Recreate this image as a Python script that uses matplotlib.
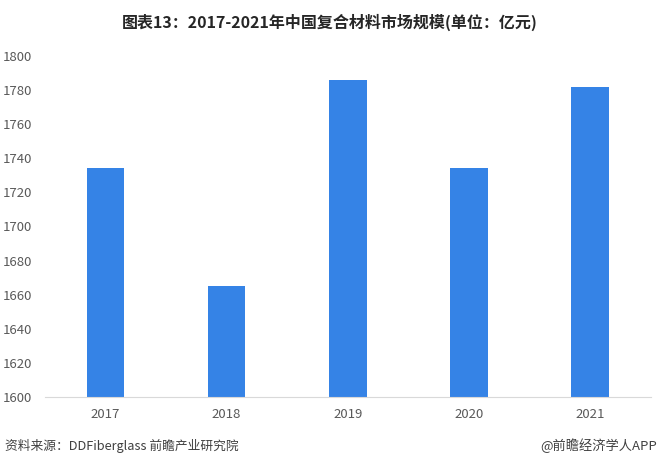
import matplotlib
matplotlib.use("Agg")
import matplotlib.pyplot as plt

plt.rcParams['font.family'] = ['Noto Sans CJK SC', 'DejaVu Sans']

years = ['2017', '2018', '2019', '2020', '2021']
values = [1734, 1665, 1786, 1734, 1782]
yticks = list(range(1600, 1801, 20))

fig = plt.figure(figsize=(6.6, 4.66), dpi=100)
ax = fig.add_axes([0.068, 0.148, 0.918, 0.732])

ax.bar(range(len(years)), values, width=0.31, color='#3583E6', zorder=2)
ax.set_xlim(-0.5, len(years) - 0.5)
ax.set_ylim(1600, 1800)
ax.set_yticks(yticks)
ax.set_xticks(range(len(years)))
ax.set_xticklabels(years)

for s in ['top', 'right', 'left']:
    ax.spines[s].set_visible(False)
ax.spines['bottom'].set_color('#d9d9d9')
ax.tick_params(axis='both', length=0, labelsize=9.5, colors='#595959')
ax.tick_params(axis='y', pad=9)
ax.tick_params(axis='x', pad=8)

fig.text(0.5, 0.953, '图表13：2017-2021年中国复合材料市场规模(单位：亿元)',
         ha='center', va='center', fontsize=11.5, fontweight='bold', color='#262626')
fig.text(0.008, 0.043, '资料来源：DDFiberglass 前瞻产业研究院',
         ha='left', va='center', fontsize=9.2, color='#404040')
fig.text(0.995, 0.043, '@前瞻经济学人APP',
         ha='right', va='center', fontsize=9.5, color='#404040')

fig.savefig('out.png', dpi=100)
